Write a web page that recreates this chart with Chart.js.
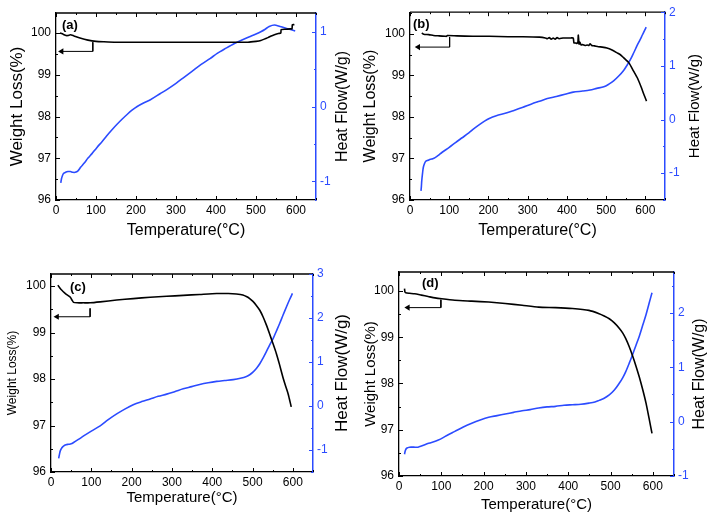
<!DOCTYPE html>
<html><head><meta charset="utf-8">
<script src="https://cdn.jsdelivr.net/npm/chart.js@4.4.1/dist/chart.umd.min.js"></script>
<style>
html,body{margin:0;padding:0;background:#fff;}
body{width:709px;height:516px;position:relative;overflow:hidden;}
canvas{position:absolute;}
</style></head><body>
<canvas id="ca" width="355" height="250" style="left:0;top:0"></canvas>
<canvas id="cb" width="354" height="250" style="left:355px;top:0"></canvas>
<canvas id="cc" width="355" height="266" style="left:0;top:250px"></canvas>
<canvas id="cd" width="354" height="266" style="left:355px;top:250px"></canvas>
<script>
// ---------- data ----------
const panelLabels = ['(a)', '(b)', '(c)', '(d)'];
const xTitle = 'Temperature(°C)';
const yTitle = 'Weight Loss(%)';
const y1Title = 'Heat Flow(W/g)';

// panel (a)
const aWeightT = [10, 18, 25, 30, 36, 45, 60, 80, 100, 120, 150, 200, 300, 400, 480, 500, 512, 522, 530, 538, 546, 556, 562, 563, 575, 586, 590, 591, 596];
const aWeight  = [100.0, 99.97, 99.94, 99.94, 99.96, 99.93, 99.88, 99.83, 99.8, 99.79, 99.78, 99.78, 99.78, 99.78, 99.78, 99.8, 99.82, 99.86, 99.89, 99.93, 99.96, 99.99, 100.0, 100.08, 100.09, 100.1, 100.1, 100.2, 100.2];
const aHeatT = [12, 14, 18, 24, 30, 36, 42, 48, 55, 62, 70, 80, 90, 102, 115, 127, 140, 152, 165, 177, 190, 203, 220, 236, 260, 278, 300, 320, 340, 362, 385, 403, 425, 445, 465, 487, 500, 512, 522, 533, 546, 560, 579, 598];
const aHeat  = [-1.02, -0.96, -0.90, -0.88, -0.87, -0.87, -0.88, -0.88, -0.86, -0.81, -0.76, -0.69, -0.63, -0.55, -0.47, -0.39, -0.31, -0.24, -0.17, -0.11, -0.05, 0.0, 0.05, 0.09, 0.17, 0.23, 0.31, 0.39, 0.47, 0.56, 0.64, 0.71, 0.78, 0.84, 0.89, 0.94, 0.97, 1.0, 1.03, 1.07, 1.09, 1.07, 1.04, 1.01];
const aArrowT = [92, 92, 14];
const aArrowW = [99.78, 99.56, 99.56];

// panel (b)
const bWeightT = [30, 35, 48, 60, 74, 90, 93, 95, 120, 160, 202, 250, 288, 330, 345, 350, 355, 360, 365, 370, 375, 380, 390, 400, 410, 416, 418, 422, 426, 428, 429, 431, 433, 436, 440, 446, 452, 456, 459, 463, 470, 480, 490, 502, 515, 528, 537, 545, 558, 570, 580, 590, 597, 603];
const bWeight  = [100.02, 99.99, 99.98, 99.96, 99.95, 99.94, 99.94, 99.96, 99.95, 99.94, 99.94, 99.93, 99.93, 99.92, 99.9, 99.88, 99.91, 99.87, 99.9, 99.87, 99.91, 99.88, 99.9, 99.9, 99.9, 99.9, 99.78, 99.78, 99.77, 99.8, 99.97, 99.75, 99.8, 99.73, 99.74, 99.72, 99.73, 99.72, 99.76, 99.72, 99.71, 99.69, 99.68, 99.66, 99.61, 99.54, 99.49, 99.42, 99.3, 99.1, 98.93, 98.7, 98.52, 98.38];
const bHeatT = [28, 29, 30, 32, 34, 37, 40, 46, 52, 58, 64, 72, 82, 100, 116, 133, 150, 163, 176, 190, 202, 220, 245, 265, 288, 310, 330, 350, 373, 395, 416, 440, 459, 476, 494, 507, 519, 532, 545, 554, 562, 570, 579, 586, 592, 598, 602];
const bHeat  = [-1.33, -1.25, -1.14, -1.0, -0.89, -0.82, -0.78, -0.76, -0.74, -0.73, -0.71, -0.67, -0.61, -0.52, -0.43, -0.34, -0.25, -0.17, -0.10, -0.03, 0.02, 0.07, 0.12, 0.17, 0.23, 0.29, 0.34, 0.39, 0.43, 0.47, 0.51, 0.53, 0.55, 0.58, 0.61, 0.66, 0.72, 0.81, 0.92, 1.02, 1.12, 1.24, 1.38, 1.48, 1.57, 1.66, 1.72];
const bArrowT = [101, 101, 21];
const bArrowW = [99.92, 99.68, 99.68];

// panel (c)
const cWeightT = [17, 22, 27, 33, 40, 48, 52, 56, 65, 80, 97, 122, 163, 204, 246, 287, 328, 369, 411, 440, 460, 476, 486, 493, 501, 509, 518, 526, 534, 542, 550, 559, 567, 575, 582, 588, 592, 596];
const cWeight  = [100.02, 99.96, 99.91, 99.86, 99.81, 99.76, 99.70, 99.65, 99.64, 99.64, 99.64, 99.66, 99.70, 99.73, 99.76, 99.78, 99.80, 99.82, 99.84, 99.84, 99.83, 99.81, 99.77, 99.73, 99.67, 99.59, 99.48, 99.34, 99.17, 98.98, 98.78, 98.55, 98.31, 98.05, 97.85, 97.69, 97.55, 97.40];
const cHeatT = [19, 21, 23, 27, 31, 37, 44, 50, 56, 68, 81, 100, 122, 142, 163, 183, 204, 225, 246, 266, 287, 308, 328, 349, 369, 390, 411, 431, 452, 470, 485, 493, 501, 510, 518, 526, 534, 542, 551, 559, 567, 575, 584, 592, 599];
const cHeat  = [-1.19, -1.10, -1.02, -0.95, -0.91, -0.88, -0.87, -0.86, -0.83, -0.76, -0.68, -0.57, -0.45, -0.31, -0.18, -0.07, 0.03, 0.10, 0.16, 0.22, 0.27, 0.33, 0.39, 0.44, 0.49, 0.53, 0.56, 0.58, 0.60, 0.63, 0.67, 0.71, 0.77, 0.86, 0.96, 1.09, 1.23, 1.38, 1.53, 1.70, 1.87, 2.05, 2.25, 2.42, 2.56];
const cArrowT = [97, 97, 15];
const cArrowW = [99.52, 99.34, 99.34];

// panel (d)
const dWeightT = [13, 14, 16, 25, 37, 53, 69, 85, 101, 132, 172, 212, 251, 291, 330, 370, 410, 449, 473, 485, 497, 509, 521, 529, 536, 544, 552, 560, 568, 576, 584, 591, 598];
const dWeight  = [100.05, 99.98, 99.96, 99.95, 99.94, 99.91, 99.88, 99.85, 99.83, 99.80, 99.78, 99.76, 99.73, 99.69, 99.65, 99.64, 99.62, 99.58, 99.51, 99.46, 99.40, 99.31, 99.19, 99.09, 98.97, 98.80, 98.60, 98.38, 98.14, 97.87, 97.57, 97.25, 96.92];
const dHeatT = [13, 15, 18, 25, 35, 45, 53, 70, 93, 112, 132, 152, 172, 192, 212, 232, 251, 271, 291, 310, 330, 350, 370, 390, 410, 430, 449, 463, 473, 485, 497, 509, 521, 529, 536, 544, 552, 560, 568, 576, 584, 591, 598];
const dHeat  = [-0.60, -0.53, -0.49, -0.47, -0.47, -0.47, -0.45, -0.40, -0.34, -0.26, -0.18, -0.10, -0.03, 0.03, 0.08, 0.11, 0.14, 0.17, 0.20, 0.22, 0.25, 0.27, 0.28, 0.30, 0.31, 0.32, 0.34, 0.36, 0.39, 0.43, 0.49, 0.58, 0.71, 0.81, 0.92, 1.07, 1.23, 1.40, 1.57, 1.77, 1.97, 2.17, 2.37];
const dArrowT = [99, 99, 21];
const dArrowW = [99.81, 99.64, 99.64];

// axis ranges [min, max]
const xRange  = [0, 650];
const yRanges  = [[96, 100.48], [96, 100.52], [96, 100.26], [96, 100.41]];
const y1Ranges = [[-1.25, 1.25], [-1.5, 2], [-1.5, 3], [-1, 2.75]];

// ---------- styling / layout ----------
const F = "'Liberation Sans', Arial, sans-serif";
const BLUE = '#2b4bff';
const layouts = [
  {id:'ca', top:13, yl:56, yr:39, xh:50, ytSize:17, ytPad:7, y1Size:16, y1dx:27, xtSize:16, xtPad:10, lx:6, ly:12},
  {id:'cb', top:10, yl:55, yr:44, xh:50, ytSize:16, ytPad:6, y1Size:15, y1dx:30, xtSize:16, xtPad:10, lx:3, ly:12},
  {id:'cc', top:24, yl:51, yr:42, xh:44, ytSize:12, ytPad:5, y1Size:17, y1dx:29, xtSize:15, xtPad:9, lx:19, ly:13},
  {id:'cd', top:22, yl:44, yr:35, xh:40, ytSize:15, ytPad:7, y1Size:16, y1dx:26, xtSize:15, xtPad:2, lx:23, ly:11}
];

function pts(xs, ys) { return xs.map((x, i) => ({x: x, y: ys[i]})); }

const insideTicks = {
  id: 'insideTicks',
  afterDraw(chart) {
    const {ctx, chartArea: a, scales} = chart;
    ctx.save();
    ctx.lineWidth = 1.3;
    ctx.strokeStyle = '#000';
    ctx.beginPath(); ctx.moveTo(a.left, a.top); ctx.lineTo(a.right, a.top); ctx.stroke();
    ctx.lineWidth = 1;
    const vals = (s, step) => {
      const out = [];
      const h = step / 2;
      for (let v = Math.ceil(s.min / h - 1e-9) * h; v <= s.max + 1e-9; v += h) {
        const r = Math.round(v * 1000) / 1000;
        out.push({v: r, major: Math.abs(r / step - Math.round(r / step)) < 1e-6});
      }
      return out;
    };
    ctx.strokeStyle = '#000';
    ctx.beginPath();
    vals(scales.x, 100).forEach(t => {
      const p = Math.round(scales.x.getPixelForValue(t.v)) + 0.5;
      const len = t.major ? 4 : 2;
      ctx.moveTo(p, a.bottom); ctx.lineTo(p, a.bottom - len);
      ctx.moveTo(p, a.top); ctx.lineTo(p, a.top + len);
    });
    vals(scales.y, 1).forEach(t => {
      const p = Math.round(scales.y.getPixelForValue(t.v)) + 0.5;
      const len = t.major ? 4 : 2;
      ctx.moveTo(a.left, p); ctx.lineTo(a.left + len, p);
    });
    ctx.stroke();
    ctx.strokeStyle = BLUE;
    ctx.beginPath();
    vals(scales.y1, 1).forEach(t => {
      const p = Math.round(scales.y1.getPixelForValue(t.v)) + 0.5;
      const len = t.major ? 4 : 2;
      ctx.moveTo(a.right, p); ctx.lineTo(a.right - len, p);
    });
    ctx.stroke();
    const o = chart.options.plugins.insideTicks;
    ctx.fillStyle = '#000';
    ctx.font = 'bold 13px ' + F;
    ctx.textBaseline = 'middle';
    ctx.textAlign = 'left';
    ctx.fillText(o.label, a.left + o.lx, a.top + o.ly);
    // right axis title, reading bottom-to-top
    ctx.font = o.y1Size + 'px ' + F;
    ctx.textAlign = 'center';
    ctx.translate(a.right + o.y1dx, (a.top + a.bottom) / 2);
    ctx.rotate(-Math.PI / 2);
    ctx.fillText(o.y1Title, 0, 0);
    ctx.restore();
  }
};

const sets = [
  [aWeightT, aWeight, aHeatT, aHeat, aArrowT, aArrowW],
  [bWeightT, bWeight, bHeatT, bHeat, bArrowT, bArrowW],
  [cWeightT, cWeight, cHeatT, cHeat, cArrowT, cArrowW],
  [dWeightT, dWeight, dHeatT, dHeat, dArrowT, dArrowW]
];

layouts.forEach((L, i) => {
  const [wt, w, ht, h, at, aw] = sets[i];
  new Chart(document.getElementById(L.id), {
    type: 'line',
    data: {
      datasets: [
        {data: pts(wt, w), yAxisID: 'y', borderColor: '#000', borderWidth: 1.6, pointRadius: 0, tension: 0.2, fill: false},
        {data: pts(ht, h), yAxisID: 'y1', borderColor: BLUE, borderWidth: 1.6, pointRadius: 0, tension: 0.3, fill: false},
        {data: pts(at, aw), yAxisID: 'y', borderColor: '#000', borderWidth: 1, tension: 0,
         pointRadius: [0, 0, 3.5], pointStyle: 'triangle', rotation: -90,
         pointBackgroundColor: '#000', pointBorderColor: '#000', pointBorderWidth: 0, fill: false}
      ]
    },
    options: {
      responsive: false, animation: false, events: [],
      layout: {padding: {top: L.top, left: 0, right: 0, bottom: 0}},
      plugins: {legend: {display: false}, tooltip: {enabled: false},
        insideTicks: {label: panelLabels[i], lx: L.lx, ly: L.ly, y1Title: y1Title, y1Size: L.y1Size, y1dx: L.y1dx}},
      scales: {
        x: {type: 'linear', min: xRange[0], max: xRange[1],
          ticks: {stepSize: 100, includeBounds: false, autoSkip: false, maxRotation: 0, color: '#000', font: {family: F, size: 12}, padding: 3},
          grid: {display: false, drawTicks: false, tickLength: 0},
          border: {display: true, color: '#000', width: 1.3},
          title: {display: true, text: xTitle, color: '#000', font: {family: F, size: L.xtSize}, padding: {top: 0, bottom: L.xtPad}},
          afterFit(s) { s.height = L.xh; }
        },
        y: {type: 'linear', position: 'left', min: yRanges[i][0], max: yRanges[i][1],
          ticks: {stepSize: 1, includeBounds: false, autoSkip: false, color: '#000', font: {family: F, size: 12}, padding: 5},
          grid: {display: false, drawTicks: false, tickLength: 0},
          border: {display: true, color: '#000', width: 1.3},
          title: {display: true, text: yTitle, color: '#000', font: {family: F, size: L.ytSize}, padding: {top: L.ytPad, bottom: 0}},
          afterFit(s) { s.width = L.yl; }
        },
        y1: {type: 'linear', position: 'right', min: y1Ranges[i][0], max: y1Ranges[i][1],
          ticks: {stepSize: 1, includeBounds: false, autoSkip: false, color: BLUE, font: {family: F, size: 12}, padding: 4},
          grid: {display: false, drawTicks: false, tickLength: 0},
          border: {display: true, color: BLUE, width: 1.5},
          title: {display: false},
          afterFit(s) { s.width = L.yr; }
        }
      }
    },
    plugins: [insideTicks]
  });
});
</script>
</body></html>
